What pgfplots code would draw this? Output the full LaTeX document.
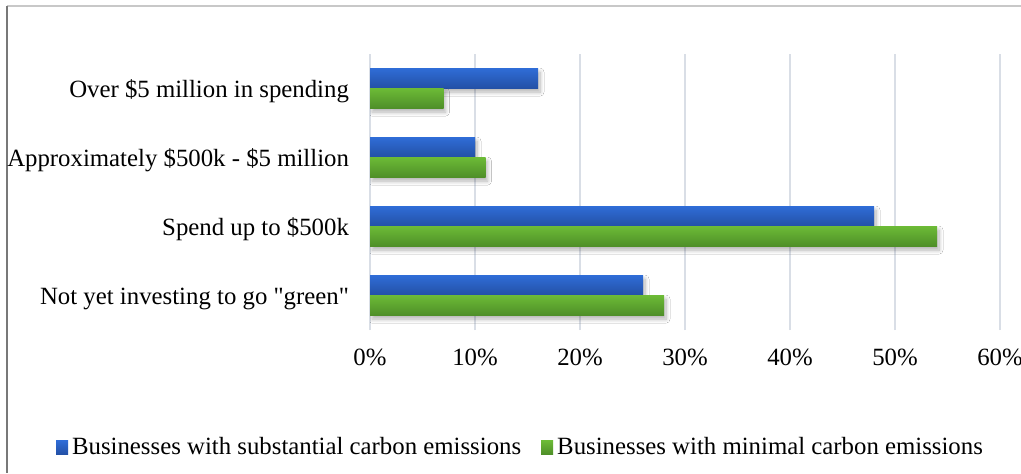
\documentclass[border=0pt]{standalone}
\usepackage{fontspec}
\setmainfont{Liberation Serif}[Ligatures=TeXOff]
\usepackage{pgfplots}
\pgfplotsset{compat=1.18}
\usetikzlibrary{shadows.blur}
\definecolor{bluetop}{RGB}{47,108,214}
\definecolor{bluebot}{RGB}{35,80,165}
\definecolor{greentop}{RGB}{108,186,54}
\definecolor{greenbot}{RGB}{78,142,40}
\definecolor{gridc}{RGB}{217,222,230}
\pgfplotsset{
  shadowed/.style={blur shadow={shadow xshift=1pt, shadow yshift=-1.8pt, shadow blur radius=2pt, shadow blur steps=8, shadow opacity=30}},
  blueb/.style={forget plot, draw=none, top color=bluetop, bottom color=bluebot, bar shift=5pt, shadowed},
  greenb/.style={forget plot, draw=none, top color=greentop, bottom color=greenbot, bar shift=-5pt, shadowed},
}
\begin{document}
\begin{tikzpicture}[font=\fontsize{12.4}{14}\selectfont]
\path[use as bounding box] (0,0) rectangle (510.5pt,236.5pt);
\fill[white] (0,0) rectangle (510.5pt,236.5pt);
\draw[line width=0.6pt, color={rgb,255:red,200;green,200;blue,200}] (3.5pt,233.5pt) -- (510.5pt,233.5pt);
\draw[line width=0.6pt, color={rgb,255:red,120;green,120;blue,120}] (3.5pt,233.5pt) -- (3.5pt,0pt);
\begin{axis}[
  at={(185pt,71.5pt)}, anchor=south west,
  scale only axis, width=315pt, height=138pt,
  xbar, bar width=10pt,
  xmin=0, xmax=60, ymin=-0.5, ymax=3.5,
  xtick={0,10,20,30,40,50,60},
  xticklabels={0\%,10\%,20\%,30\%,40\%,50\%,60\%},
  ytick={0,1,2,3},
  yticklabels={Not yet investing to go "green", Spend up to \$500k, Approximately \$500k - \$5 million, Over \$5 million in spending},
  axis line style={draw=none},
  major tick length=0pt,
  xmajorgrids, grid style={gridc, line width=0.8pt},
  xticklabel style={yshift=-6pt},
  yticklabel style={xshift=-7pt, yshift=-1.5pt},
  legend columns=2,
  legend style={draw=none, fill=none, at={(0.2405,-0.426)}, anchor=center,
    /tikz/every even column/.append style={column sep=8pt},
    inner sep=0pt, cells={anchor=west}},
  legend image code/.code={\fill[#1] (0pt,-3.5pt) rectangle (6pt,3.5pt);},
]
\addlegendimage{top color=bluetop, bottom color=bluebot, draw=none}
\addlegendentry[xshift=-2pt]{Businesses with substantial carbon emissions}
\addlegendimage{top color=greentop, bottom color=greenbot, draw=none}
\addlegendentry[xshift=-2pt]{Businesses with minimal carbon emissions}
% substantial carbon emissions
\addplot[blueb] coordinates {(26,0)};
\addplot[blueb] coordinates {(48,1)};
\addplot[blueb] coordinates {(10,2)};
\addplot[blueb] coordinates {(16,3)};
% minimal carbon emissions
\addplot[greenb] coordinates {(28,0)};
\addplot[greenb] coordinates {(54,1)};
\addplot[greenb] coordinates {(11,2)};
\addplot[greenb] coordinates {(7,3)};
\end{axis}
\end{tikzpicture}
\end{document}
